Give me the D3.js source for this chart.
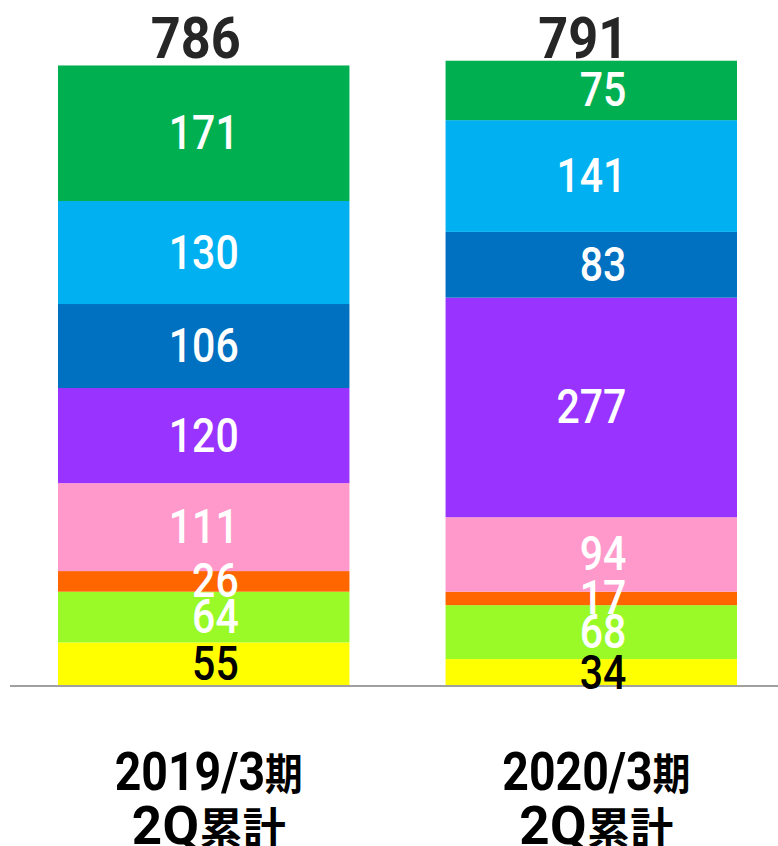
<!DOCTYPE html>
<html><head><meta charset="utf-8">
<script src="https://cdn.jsdelivr.net/npm/d3@7"></script>
<style>html,body{margin:0;padding:0;background:#fff;}svg{display:block;}</style>
</head><body>
<svg id="chart" width="778" height="846"></svg>
<script>
// ---- data ----
const categories = ["2019/3期 2Q累計", "2020/3期 2Q累計"];
const categoryLine1 = ["2019/3期", "2020/3期"];
const categoryLine2 = ["2Q累計", "2Q累計"];
const totals = [786, 791];
// segments bottom -> top
const seriesKeys = ["yellow", "lime", "orange", "pink", "purple", "darkBlue", "lightBlue", "green"];
const yellow    = [55, 34];
const lime      = [64, 68];
const orange    = [26, 17];
const pink      = [111, 94];
const purple    = [120, 277];
const darkBlue  = [106, 83];
const lightBlue = [130, 141];
const green     = [171, 75];

const seriesValues = {yellow, lime, orange, pink, purple, darkBlue, lightBlue, green};
const colors = {
  yellow: "#FFFF00", lime: "#99FA28", orange: "#FF6600", pink: "#FF99CC",
  purple: "#9933FF", darkBlue: "#0070C0", lightBlue: "#00B0F0", green: "#00B050"
};
const labelColors = {yellow: "#000000"};

const rows = categories.map((c, i) => {
  const r = {category: c};
  seriesKeys.forEach(k => r[k] = seriesValues[k][i]);
  return r;
});

const svg = d3.select("#chart");
const baseY = 686;
const x = d3.scaleBand().domain(categories).range([58, 737]).paddingInner(0.248).paddingOuter(0);
const y = d3.scaleLinear().domain([0, 800]).range([baseY, 52]);

const stacked = d3.stack().keys(seriesKeys)(rows);
const latin = "Roboto, 'Noto Sans', sans-serif";
const cjk = "'Noto Sans CJK JP', sans-serif";

// bars
const layers = svg.append("g").selectAll("g").data(stacked).join("g")
  .attr("fill", d => colors[d.key]);
layers.selectAll("rect").data(d => d.map(p => ({p, key: d.key}))).join("rect")
  .attr("x", d => x(d.p.data.category))
  .attr("width", x.bandwidth())
  .attr("y", d => y(d.p[1]))
  .attr("height", d => y(d.p[0]) - y(d.p[1]));

// axis baseline
svg.append("line").attr("x1", 10).attr("x2", 778).attr("y1", baseY).attr("y2", baseY)
  .attr("stroke", "#A0A0A0").attr("stroke-width", 2);

// segment labels (right aligned)
const segLabels = svg.append("g");
stacked.forEach(layer => {
  layer.forEach(p => {
    const v = p.data[layer.key];
    const cx = x(p.data.category) + x.bandwidth() / 2;
    const cy = (y(p[0]) + y(p[1])) / 2;
    const s = String(v);
    segLabels.append("text")
      .attr("x", cx + 35)
      .attr("y", cy + 16)
      .attr("text-anchor", "end")
      .attr("font-family", latin)
      .attr("font-weight", 500)
      .attr("font-size", 48)
      .attr("textLength", s.length * 23.3)
      .attr("lengthAdjust", "spacingAndGlyphs")
      .attr("fill", labelColors[layer.key] || "#FFFFFF")
      .text(s);
  });
});

// total labels
svg.append("g").selectAll("text").data(rows).join("text")
  .attr("x", (d) => x(d.category) + x.bandwidth() / 2 - 8)
  .attr("y", 58)
  .attr("text-anchor", "middle")
  .attr("font-family", latin)
  .attr("font-weight", 700)
  .attr("font-size", 57)
  .attr("textLength", (d, i) => String(totals[i]).length * 30)
  .attr("lengthAdjust", "spacingAndGlyphs")
  .attr("fill", "#262626")
  .text((d, i) => totals[i]);

// category labels
function addRuns(textSel, str, bigSize, cjkSize) {
  const runs = str.match(/[\u3000-\u9fff]+|[^\u3000-\u9fff]+/g);
  runs.forEach(r => {
    const isCjk = /[\u3000-\u9fff]/.test(r);
    textSel.append("tspan")
      .attr("font-family", isCjk ? cjk : latin)
      .attr("font-size", isCjk ? cjkSize : bigSize)
      .attr("dy", 0)
      .text(r);
  });
}
const catG = svg.append("g");
categories.forEach((c, i) => {
  const cx = x(c) + x.bandwidth() / 2 + 5;
  const t1 = catG.append("text")
    .attr("x", cx).attr("y", 790).attr("text-anchor", "middle")
    .attr("font-weight", 700).attr("fill", "#000")
    .attr("textLength", 188).attr("lengthAdjust", "spacingAndGlyphs");
  addRuns(t1, categoryLine1[i], 53, 43);
  const t2 = catG.append("text")
    .attr("x", cx).attr("y", 844).attr("text-anchor", "middle")
    .attr("font-weight", 700).attr("fill", "#000")
    .attr("textLength", 154).attr("lengthAdjust", "spacing");
  addRuns(t2, categoryLine2[i], 53, 43);
});
</script>
</body></html>
